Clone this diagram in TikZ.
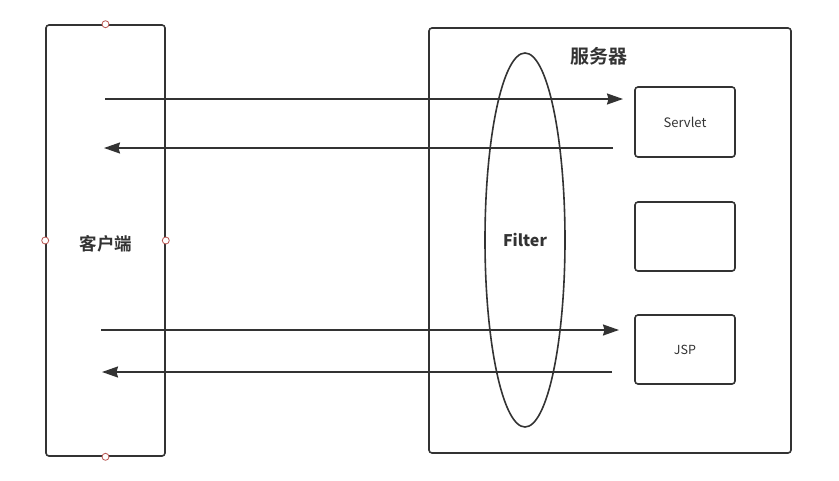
\documentclass[tikz,border=0pt]{standalone}
\usepackage{fontspec}
\setmainfont{Noto Sans CJK SC}
\newfontfamily\cjkbold{Noto Sans CJK SC Bold}
\usetikzlibrary{arrows.meta,shapes.geometric}

\definecolor{ink}{HTML}{333333}
\definecolor{pin}{HTML}{B85450}

\tikzset{
    box/.style={draw=ink, line width=1.6pt, rounded corners=3pt, inner sep=0pt},
    flow/.style={draw=ink, line width=1.6pt, -{Stealth[length=16pt,width=11pt,inset=1.5pt]}},
    pinmark/.style={circle, draw=pin, fill=white, line width=0.8pt, minimum size=7pt, inner sep=0pt}
}

\begin{document}
\begin{tikzpicture}[x=1pt, y=-1pt]
    \useasboundingbox (0,0) rectangle (839,480);

    % client
    \node[box, minimum width=119pt, minimum height=431pt] (client) at (105.5,240.5) {};
    \node[font=\cjkbold\fontsize{17.5}{17.5}\selectfont, text=ink] (clientlbl) at (106,244) {客户端};
    \node[pinmark] (pn) at (client.north) {};
    \node[pinmark] (ps) at (client.south) {};
    \node[pinmark] (pw) at (client.west) {};
    \node[pinmark] (pe) at (client.east) {};

    % server
    \node[box, minimum width=362pt, minimum height=425pt] (server) at (610,240.5) {};
    \node[font=\cjkbold\fontsize{19}{19}\selectfont, text=ink] (serverlbl) at (599,56) {服务器};

    \node[ellipse, draw=ink, line width=1.6pt, minimum width=80pt, minimum height=374pt, inner sep=0pt,
          font=\bfseries\fontsize{16}{16}\selectfont, text=ink] (filter) at (525,240) {Filter};

    \node[box, minimum width=100pt, minimum height=70pt, font=\fontsize{13}{13}\selectfont, text=ink] (servlet) at (685,122) {Servlet};
    \node[box, minimum width=100pt, minimum height=69pt] (blank) at (685,236.5) {};
    \node[box, minimum width=100pt, minimum height=69pt, font=\fontsize{12.5}{12.5}\selectfont, text=ink] (jsp) at (685,349.5) {JSP};

    % requests and responses
    \coordinate (req1) at (105,99);
    \coordinate (req1end) at (623,99);
    \coordinate (res1) at (613,148);
    \coordinate (res1end) at (104,148);
    \coordinate (req2) at (101,330);
    \coordinate (req2end) at (619,330);
    \coordinate (res2) at (612,372);
    \coordinate (res2end) at (102,372);

    \draw[flow] (req1) -- (req1end);
    \draw[flow] (res1) -- (res1end);
    \draw[flow] (req2) -- (req2end);
    \draw[flow] (res2) -- (res2end);
\end{tikzpicture}
\end{document}
